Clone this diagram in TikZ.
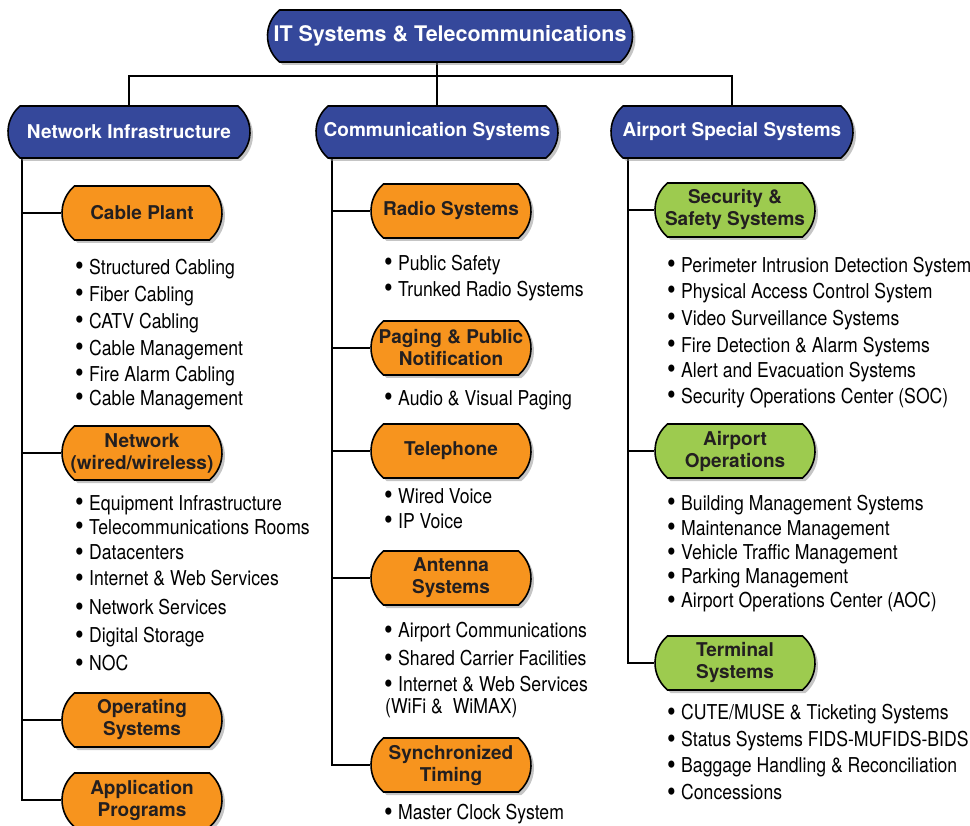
\documentclass[tikz,border=0pt]{standalone}
\usepackage{fontspec}
\setmainfont{TeX Gyre Heros}
\newfontfamily\itemfont[FakeStretch=0.86]{TeX Gyre Heros}
\usetikzlibrary{shapes.misc,shadows,backgrounds}

\definecolor{itblue}{HTML}{35489B}
\definecolor{itorange}{HTML}{F7941E}
\definecolor{itgreen}{HTML}{9DCB4F}
\definecolor{ittext}{HTML}{231F20}

\newcommand{\bul}{\makebox[14pt][l]{\raisebox{-1.5pt}{\scalebox{1.4}{•}}}}

\tikzset{
  box/.style={rounded rectangle, rounded rectangle arc length=100, draw=black,
    line width=1.6pt, inner sep=0pt, align=center,
    drop shadow={shadow xshift=3pt, shadow yshift=-3pt, fill=black!45},
    font=\bfseries\fontsize{19}{22}\selectfont},
  topbox/.style={box, fill=itblue, text=white, minimum width=242pt, minimum height=52pt},
  subbox/.style={box, fill=itorange, text=ittext, minimum width=160pt, minimum height=54pt},
  greenbox/.style={subbox, fill=itgreen},
  wire/.style={line width=1.8pt, black},
  item/.style={anchor=west, inner sep=0pt, text height=15pt, text depth=0pt,
    text=black, font=\itemfont\fontsize{20.5}{23}\selectfont}
}

\begin{document}
\begin{tikzpicture}[x=1pt,y=-1pt]
\useasboundingbox (0,0) rectangle (970,826);

% top levels
\node[topbox, minimum width=365pt, font=\bfseries\fontsize{21.5}{24}\selectfont] (it) at (450,36) {IT Systems \& Telecommunications};
\node[topbox] (net) at (129,132) {Network Infrastructure};
\node[topbox] (comm) at (437,132) {Communication Systems};
\node[topbox] (spec) at (732,132) {Airport Special Systems};

% network infrastructure
\node[subbox] (cable) at (142,213) {Cable Plant};
\node[subbox] (lan) at (142,453) {Network\\(wired/wireless)};
\node[subbox] (os) at (142,720) {Operating\\Systems};
\node[subbox] (app) at (142,800) {Application\\Programs};

% communication systems
\node[subbox] (radio) at (451,211) {Radio Systems};
\node[subbox] (paging) at (451,348) {Paging \& Public\\Notification};
\node[subbox] (phone) at (451,451) {Telephone};
\node[subbox] (antenna) at (451,578) {Antenna\\Systems};
\node[subbox] (sync) at (451,765) {Synchronized\\Timing};

% airport special systems
\node[greenbox] (safety) at (735,210) {Security \&\\Safety Systems};
\node[greenbox] (ops) at (735,451) {Airport\\Operations};
\node[greenbox] (term) at (735,663) {Terminal\\Systems};

% connectors
\begin{scope}[on background layer]
\coordinate (bus) at (437,76);
\coordinate (spL) at (22,0);
\coordinate (spM) at (332,0);
\coordinate (spR) at (628,0);
\draw[wire] (net.north) |- (bus) -| (spec.north);
\draw[wire] (it.south -| comm.north) -- (comm.north);
\draw[wire] (net.south -| spL) |- (app.west);
\draw[wire] (spL |- cable.west) -- (cable.west);
\draw[wire] (spL |- lan.west) -- (lan.west);
\draw[wire] (spL |- os.west) -- (os.west);
\draw[wire] (comm.south -| spM) |- (sync.west);
\draw[wire] (spM |- radio.west) -- (radio.west);
\draw[wire] (spM |- paging.west) -- (paging.west);
\draw[wire] (spM |- phone.west) -- (phone.west);
\draw[wire] (spM |- antenna.west) -- (antenna.west);
\draw[wire] (spec.south -| spR) |- (term.west);
\draw[wire] (spR |- safety.west) -- (safety.west);
\draw[wire] (spR |- ops.west) -- (ops.west);
\end{scope}

% bullet lists
\foreach \t/\y [count=\i] in {Structured Cabling/267, Fiber Cabling/294, CATV Cabling/321,
    Cable Management/348, Fire Alarm Cabling/374, Cable Management/398}
  \node[item] (cable-\i) at (75,\y) {\bul\t};
\foreach \t/\y [count=\i] in {Equipment Infrastructure/503, Telecommunications Rooms/527,
    Datacenters/552, Internet \& Web Services/578, Network Services/607,
    Digital Storage/635, NOC/663}
  \node[item] (lan-\i) at (75,\y) {\bul\t};

\foreach \t/\y [count=\i] in {Public Safety/263, Trunked Radio Systems/289}
  \node[item] (radio-\i) at (384,\y) {\bul\t};
\node[item] (paging-1) at (384,398) {\bul Audio \& Visual Paging};
\foreach \t/\y [count=\i] in {Wired Voice/496, IP Voice/521}
  \node[item] (phone-\i) at (384,\y) {\bul\t};
\foreach \t/\y [count=\i] in {Airport Communications/630, Shared Carrier Facilities/658,
    Internet \& Web Services/684}
  \node[item] (antenna-\i) at (384,\y) {\bul\t};
\node[item] (antenna-4) at (385,706) {(WiFi \&\ \ WiMAX)};
\node[item] (sync-1) at (384,812) {\bul Master Clock System};

\foreach \t/\y [count=\i] in {Perimeter Intrusion Detection System/265,
    Physical Access Control System/291, Video Surveillance Systems/318,
    Fire Detection \& Alarm Systems/345, Alert and Evacuation Systems/370,
    Security Operations Center (SOC)/396}
  \node[item] (safety-\i) at (667,\y) {\bul\t};
\foreach \t/\y [count=\i] in {Building Management Systems/503, Maintenance Management/528,
    Vehicle Traffic Management/552, Parking Management/576,
    Airport Operations Center (AOC)/600}
  \node[item] (ops-\i) at (667,\y) {\bul\t};
\foreach \t/\y [count=\i] in {{CUTE/MUSE \& Ticketing Systems}/712,
    Status Systems FIDS-MUFIDS-BIDS/739, Baggage Handling \& Reconciliation/765,
    Concessions/792}
  \node[item] (term-\i) at (667,\y) {\bul\t};
\end{tikzpicture}
\end{document}
